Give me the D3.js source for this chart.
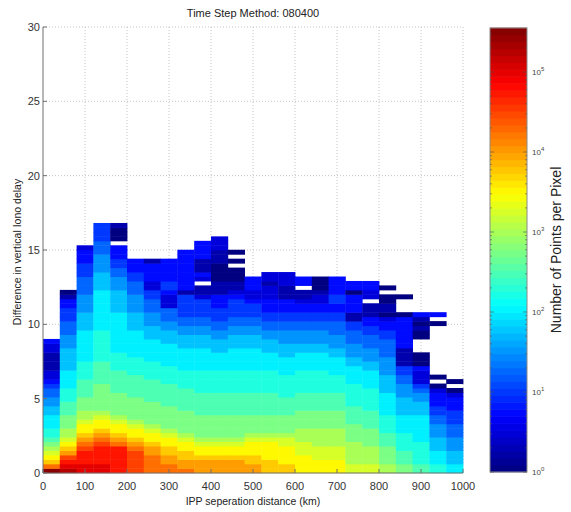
<!DOCTYPE html>
<html>
<head>
<meta charset="utf-8">
<script src="https://cdn.jsdelivr.net/npm/d3@7"></script>
<style>
  body { margin: 0; background: #fff; }
  text { font-family: "Liberation Sans", Arial, sans-serif; }
</style>
</head>
<body>
<div id="chart"></div>
<script>
// bins: 40 km wide in x, 0.3 wide in y
var xBinKm = 40;
var yBin = 0.3;

// one string per 40 km bin, one char per 0.3 bin from the bottom up (spaces every 10 rows are ignored)
// char = log10(points per pixel) in quarter steps: "0" -> 10^0, "4" -> 10^1, "m" -> 10^5.5 ; "." = empty bin
var levelChars = "0123456789abcdefghijklm";
var columns = [
  "mhfedcba99 8887766554 3221111223",
  "lkjigfedcc bbbaaa9998 8887777766 6555444331 0",
  "kkjjjihgfe edccbbbaaa a999988888 8877776666 5555444333 2",
  "kkjjjjihgf eedcbbbbbb aaaaa99999 9988888888 8777766665 554444",
  "jjjjjjhgfe edcbbbbbaa aaa9999888 8888887777 7666554433 3.0001",
  "iiiiihgfee dcbbbbbaaa aa99998888 8877776666 55544333",
  "hhhhggfeed cbbbbbaaaa a999988888 7776665554 42233331",
  "hhggffeedc bbbbbaaaaa 9999888887 7766555222 34433333",
  "hggffeedcb bbbbaaaaa9 9998888877 7665544444 1333333333",
  "gggfeedcbb bbbaaaaa99 9998888877 7665544442 11.2311133 33",
  "gggfeedcbb bbbaaaaa99 9998888777 6655444333 1110000111 222",
  "gggfeedcbb bbbaaaaa99 9998888877 7665544443 211000.0.0",
  "ggffeeedcb bbbaaaaa99 9998888877 7665544432 2333",
  "fffeeeedcb bbbaaaaa99 9998888777 6655443332 22122",
  "ffeeeeddcb bbbaaaa999 9988887776 6655443331 11222",
  "eeeedddccc bbbbaaaa99 9998888776 6655443321 1.33",
  "eeedddcccc bbbbaaaa99 9998888776 6655443322 1000",
  "eeedddcccc bbbbaaaa99 9988887766 6555443344 3333",
  "ddcccccbbb baaaa99999 8888776665 5544113333 033",
  "ddccccbbbb aaaa999998 8887766655 54433111.2 233",
  "ccbbbbaaa9 9998888877 7766665555 4433201100 .0",
  "bbaaa99998 8887777666 5544111133 333330...0",
  "aa99999888 8887776654 2223000... 001013",
  "9988877766 6554433320 .0........ ...0.3",
  "8877766655 544433320. 0"
];

var xTicks = [0, 100, 200, 300, 400, 500, 600, 700, 800, 900, 1000];
var yTicks = [0, 5, 10, 15, 20, 25, 30];
var cbTicks = [1, 10, 100, 1000, 10000, 100000];
var cbExponents = [0, 1, 2, 3, 4, 5];
var cbMax = Math.pow(10, 5.55);

function jet(t) {
  t = Math.max(0, Math.min(1, t));
  function c(v) { return Math.max(0, Math.min(1, v)); }
  var r = c(1.5 - Math.abs(4 * t - 3)),
      g = c(1.5 - Math.abs(4 * t - 2)),
      b = c(1.5 - Math.abs(4 * t - 1));
  return d3.rgb(r * 255, g * 255, b * 255);
}

var width = 571, height = 512;
var plot = {left: 43, right: 463, top: 27, bottom: 473};

var svg = d3.select("#chart").append("svg")
    .attr("width", width)
    .attr("height", height);

var x = d3.scaleLinear().domain([0, 1000]).range([plot.left, plot.right]);
var y = d3.scaleLinear().domain([0, 30]).range([plot.bottom, plot.top]);
var colorPos = d3.scaleLog().domain([1, cbMax]).range([0, 1]);

// grid
svg.append("g").selectAll("line")
    .data(xTicks.slice(1))
  .enter().append("line")
    .attr("x1", function(d) { return x(d); })
    .attr("x2", function(d) { return x(d); })
    .attr("y1", plot.top).attr("y2", plot.bottom)
    .style("stroke", "#c4c4c4").style("stroke-width", 1)
    .style("stroke-dasharray", "1,2");
svg.append("g").selectAll("line")
    .data(yTicks.slice(1))
  .enter().append("line")
    .attr("x1", plot.left).attr("x2", plot.right)
    .attr("y1", function(d) { return y(d); })
    .attr("y2", function(d) { return y(d); })
    .style("stroke", "#c4c4c4").style("stroke-width", 1)
    .style("stroke-dasharray", "1,2");

// cells
var cells = [];
columns.forEach(function(col, j) {
  col.replace(/ /g, "").split("").forEach(function(ch, i) {
    if (ch === ".") return;
    cells.push({x0: j * xBinKm, y0: i * yBin, count: Math.pow(10, levelChars.indexOf(ch) / 4)});
  });
});

var cw = x(xBinKm) - x(0);
var chh = y(0) - y(yBin);
svg.append("g").selectAll("rect")
    .data(cells)
  .enter().append("rect")
    .attr("x", function(d) { return x(d.x0); })
    .attr("y", function(d) { return y(d.y0 + yBin) - 0.25; })
    .attr("width", cw + 0.4)
    .attr("height", chh + 0.5)
    .attr("fill", function(d) { return jet(colorPos(d.count)); });

// axes
var axisColor = "#6e6e6e";
svg.append("line")
    .attr("x1", plot.left).attr("x2", plot.left)
    .attr("y1", plot.top).attr("y2", plot.bottom)
    .style("stroke", axisColor);
svg.append("line")
    .attr("x1", plot.left).attr("x2", plot.right)
    .attr("y1", plot.bottom).attr("y2", plot.bottom)
    .style("stroke", axisColor);

svg.append("g").selectAll("line")
    .data(yTicks)
  .enter().append("line")
    .attr("x1", plot.left).attr("x2", plot.left + 4)
    .attr("y1", function(d) { return y(d); })
    .attr("y2", function(d) { return y(d); })
    .style("stroke", axisColor);
svg.append("g").selectAll("line")
    .data(xTicks)
  .enter().append("line")
    .attr("x1", function(d) { return x(d); })
    .attr("x2", function(d) { return x(d); })
    .attr("y1", plot.bottom).attr("y2", plot.bottom - 4)
    .style("stroke", axisColor);

svg.append("g").selectAll("text")
    .data(yTicks)
  .enter().append("text")
    .attr("x", plot.left - 3)
    .attr("y", function(d) { return y(d); })
    .attr("dy", "0.35em")
    .attr("text-anchor", "end")
    .attr("font-size", 11)
    .attr("fill", "#333")
    .text(function(d) { return d; });

svg.append("g").selectAll("text")
    .data(xTicks)
  .enter().append("text")
    .attr("x", function(d) { return x(d); })
    .attr("y", plot.bottom + 17)
    .attr("text-anchor", "middle")
    .attr("font-size", 11)
    .attr("fill", "#333")
    .text(function(d) { return d; });

svg.append("text")
    .attr("x", (plot.left + plot.right) / 2)
    .attr("y", 17)
    .attr("text-anchor", "middle")
    .attr("font-size", 11)
    .attr("fill", "#222")
    .text("Time Step Method: 080400");

svg.append("text")
    .attr("x", (plot.left + plot.right) / 2)
    .attr("y", 505)
    .attr("text-anchor", "middle")
    .attr("font-size", 10.5)
    .attr("fill", "#222")
    .text("IPP seperation distance (km)");

svg.append("text")
    .attr("transform", "translate(21," + ((plot.top + plot.bottom) / 2 + 2) + ") rotate(-90)")
    .attr("text-anchor", "middle")
    .attr("font-size", 10.5)
    .attr("fill", "#222")
    .text("Difference in vertical Iono delay");

// colorbar
var cb = {left: 490, right: 527, top: 28, bottom: 472};
var cbY = d3.scaleLog().domain([1, cbMax]).range([cb.bottom, cb.top]);
var bands = d3.range(64);
svg.append("g").selectAll("rect")
    .data(bands)
  .enter().append("rect")
    .attr("x", cb.left)
    .attr("width", cb.right - cb.left)
    .attr("y", function(d) { return cb.bottom - (d + 1) * (cb.bottom - cb.top) / 64 - 0.3; })
    .attr("height", (cb.bottom - cb.top) / 64 + 0.6)
    .attr("fill", function(d) { return jet((d + 0.5) / 64); });
svg.append("rect")
    .attr("x", cb.left).attr("y", cb.top)
    .attr("width", cb.right - cb.left).attr("height", cb.bottom - cb.top)
    .style("fill", "none").style("stroke", "#8a8a8a");

var minor = [];
cbTicks.forEach(function(t) {
  for (var k = 2; k <= 9; k++) if (t * k < cbMax) minor.push(t * k);
});
var tickG = svg.append("g").style("stroke", "#555").style("stroke-opacity", 0.6);
[cb.left, cb.right].forEach(function(edge, side) {
  var dir = side === 0 ? 1 : -1;
  tickG.selectAll(null).data(cbTicks).enter().append("line")
      .attr("x1", edge).attr("x2", edge + dir * 4)
      .attr("y1", function(d) { return cbY(d); })
      .attr("y2", function(d) { return cbY(d); });
  tickG.selectAll(null).data(minor).enter().append("line")
      .attr("x1", edge).attr("x2", edge + dir * 2)
      .attr("y1", function(d) { return cbY(d); })
      .attr("y2", function(d) { return cbY(d); });
});

var cbLabels = svg.append("g").selectAll("text")
    .data(cbTicks)
  .enter().append("text")
    .attr("x", cb.right + 5)
    .attr("y", function(d) { return cbY(d) + 3; })
    .attr("font-size", 8)
    .attr("fill", "#444");
cbLabels.append("tspan").text("10");
cbLabels.append("tspan")
    .attr("dy", -4)
    .attr("font-size", 6)
    .text(function(d, i) { return cbExponents[i]; });

svg.append("text")
    .attr("transform", "translate(561," + ((cb.top + cb.bottom) / 2) + ") rotate(-90)")
    .attr("text-anchor", "middle")
    .attr("font-size", 14)
    .attr("fill", "#222")
    .text("Number of Points per Pixel");
</script>
</body>
</html>
